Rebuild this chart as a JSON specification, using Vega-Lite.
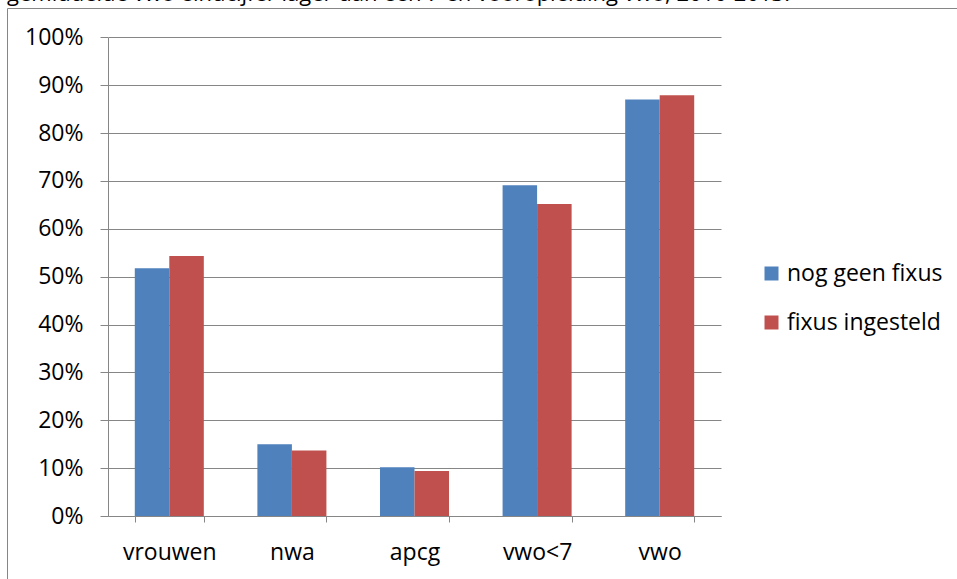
{
  "$schema": "https://vega.github.io/schema/vega-lite/v6.json",
  "width": 950,
  "height": 571,
  "autosize": {"type": "none"},
  "padding": {"left": 7, "top": 8, "right": 0, "bottom": 0},
  "background": "white",
  "title": {
    "text": "gemiddelde vwo eindcijfer lager dan een 7 en vooropleiding vwo, 2010-2013.",
    "anchor": "start",
    "frame": "group",
    "orient": "top",
    "offset": -15,
    "baseline": "alphabetic",
    "font": "Open Sans",
    "fontSize": 22,
    "fontWeight": "normal",
    "color": "#000000"
  },
  "data": {
    "values": [
      {"groep": "vrouwen", "status": "nog geen fixus", "aandeel": 0.5175},
      {"groep": "vrouwen", "status": "fixus ingesteld", "aandeel": 0.543},
      {"groep": "nwa", "status": "nog geen fixus", "aandeel": 0.150},
      {"groep": "nwa", "status": "fixus ingesteld", "aandeel": 0.137},
      {"groep": "apcg", "status": "nog geen fixus", "aandeel": 0.102},
      {"groep": "apcg", "status": "fixus ingesteld", "aandeel": 0.094},
      {"groep": "vwo<7", "status": "nog geen fixus", "aandeel": 0.691},
      {"groep": "vwo<7", "status": "fixus ingesteld", "aandeel": 0.652},
      {"groep": "vwo", "status": "nog geen fixus", "aandeel": 0.870},
      {"groep": "vwo", "status": "fixus ingesteld", "aandeel": 0.879}
    ]
  },
  "mark": {"type": "bar"},
  "encoding": {
    "x": {
      "field": "groep",
      "type": "nominal",
      "sort": ["vrouwen", "nwa", "apcg", "vwo<7", "vwo"],
      "scale": {"range": [101, 714], "paddingInner": 0.437, "paddingOuter": 0.2185},
      "axis": {
        "orient": "bottom",
        "offset": -63,
        "title": null,
        "labelAngle": 0,
        "tickBand": "extent",
        "tickSize": 6,
        "labelPadding": 19,
        "labelFont": "Open Sans",
        "labelFontSize": 23,
        "labelColor": "#000000",
        "domainColor": "#868686",
        "tickColor": "#868686",
        "grid": false
      }
    },
    "xOffset": {
      "field": "status",
      "type": "nominal",
      "sort": ["nog geen fixus", "fixus ingesteld"]
    },
    "y": {
      "field": "aandeel",
      "type": "quantitative",
      "scale": {"domain": [0, 1], "range": [508, 29.3], "nice": false},
      "axis": {
        "orient": "left",
        "offset": -101,
        "title": null,
        "values": [0, 0.1, 0.2, 0.3, 0.4, 0.5, 0.6, 0.7, 0.8, 0.9, 1],
        "format": ".0%",
        "grid": true,
        "gridColor": "#868686",
        "gridOpacity": 1,
        "domainColor": "#868686",
        "tickColor": "#868686",
        "tickSize": 8,
        "labelPadding": 17,
        "labelFont": "Open Sans",
        "labelFontSize": 23,
        "labelColor": "#000000"
      }
    },
    "color": {
      "field": "status",
      "type": "nominal",
      "scale": {
        "domain": ["nog geen fixus", "fixus ingesteld"],
        "range": ["#4F81BD", "#C0504D"]
      },
      "legend": {
        "title": null,
        "orient": "none",
        "legendX": 753,
        "legendY": 254,
        "padding": 0,
        "symbolType": "square",
        "symbolSize": 196,
        "symbolStrokeWidth": 0,
        "symbolOpacity": 1,
        "symbolOffset": 0,
        "labelOffset": 4,
        "rowPadding": 25,
        "labelFont": "Open Sans",
        "labelFontSize": 23,
        "labelColor": "#000000"
      }
    }
  },
  "config": {
    "view": {"stroke": "#868686", "strokeWidth": 1}
  }
}
